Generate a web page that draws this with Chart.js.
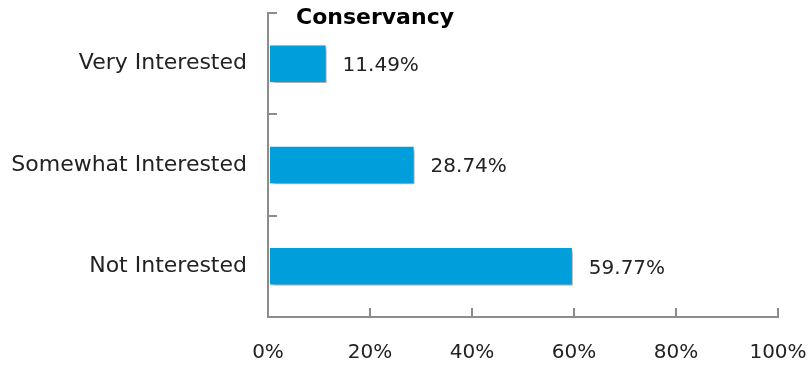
<!DOCTYPE html>
<html>
<head>
<meta charset="utf-8">
<script src="https://cdn.jsdelivr.net/npm/chart.js@4/dist/chart.umd.min.js"></script>
<style>
html,body{margin:0;padding:0;background:#fff;}
#wrap{width:812px;height:367px;position:relative;}
</style>
</head>
<body>
<div id="wrap"><canvas id="c" width="812" height="367"></canvas></div>
<script>
const categories = ["Very Interested", "Somewhat Interested", "Not Interested"];
const values = [11.49, 28.74, 59.77];
const valueLabels = ["11.49%", "28.74%", "59.77%"];
const xTicks = [0, 20, 40, 60, 80, 100];
const chartTitle = "Conservancy";

const FONT = "'DejaVu Sans', sans-serif";
const TEXT = "#222222";
const AXIS = "#8c8c8c";

const shadowPlugin = {
  id: 'barShadow',
  beforeDatasetDraw(chart) {
    const ctx = chart.ctx;
    ctx.save();
    ctx.shadowColor = 'rgba(0,0,0,0.35)';
    ctx.shadowBlur = 4;
    ctx.shadowOffsetX = 3;
    ctx.shadowOffsetY = 3;
  },
  afterDatasetDraw(chart) {
    chart.ctx.restore();
  }
};

const labelPlugin = {
  id: 'valueLabels',
  afterDatasetsDraw(chart) {
    const ctx = chart.ctx;
    const meta = chart.getDatasetMeta(0);
    ctx.save();
    ctx.font = "20px " + FONT;
    ctx.fillStyle = TEXT;
    ctx.textAlign = 'left';
    ctx.textBaseline = 'middle';
    meta.data.forEach((bar, i) => {
      ctx.fillText(valueLabels[i], bar.x + 16, bar.y + 2);
    });
    ctx.restore();
  }
};

const titlePlugin = {
  id: 'leftTitle',
  afterDraw(chart) {
    const ctx = chart.ctx;
    ctx.save();
    ctx.font = "bold 22px " + FONT;
    ctx.fillStyle = "#000";
    ctx.textAlign = 'center';
    ctx.textBaseline = 'middle';
    ctx.fillText(chartTitle, chart.chartArea.left + 107, 18);
    ctx.restore();
  }
};

new Chart(document.getElementById('c'), {
  type: 'bar',
  data: {
    labels: categories,
    datasets: [{
      data: values,
      backgroundColor: '#009EDB',
      borderColor: '#ffffff',
      borderWidth: 1,
      borderSkipped: false,
      categoryPercentage: 0.76,
      barPercentage: 0.5
    }]
  },
  options: {
    indexAxis: 'y',
    responsive: false,
    animation: false,
    devicePixelRatio: 1,
    layout: { padding: { top: 13, right: 34, left: 0, bottom: 0 } },
    plugins: {
      legend: { display: false },
      tooltip: { enabled: false },
      title: { display: false }
    },
    scales: {
      x: {
        min: 0, max: 100,
        afterBuildTicks(scale) { scale.ticks = xTicks.map(v => ({ value: v })); },
        afterFit(scale) {
          scale.height = 50;
          scale.paddingLeft = 0; scale.paddingRight = 0;
          scale.paddingTop = 0; scale.paddingBottom = 0;
        },
        grid: {
          display: true,
          drawOnChartArea: false,
          drawTicks: true,
          tickLength: -9,
          color: AXIS,
          lineWidth: 2
        },
        border: { display: true, color: AXIS, width: 2 },
        ticks: {
          padding: 33,
          color: TEXT,
          font: { family: FONT, size: 20 },
          callback: v => v + '%'
        }
      },
      y: {
        afterFit(scale) {
          scale.width = 268;
          scale.paddingLeft = 0; scale.paddingRight = 0;
          scale.paddingTop = 0; scale.paddingBottom = 0;
        },
        grid: {
          display: true,
          drawOnChartArea: false,
          drawTicks: true,
          offset: true,
          tickLength: -9,
          color: AXIS,
          lineWidth: 2
        },
        border: { display: true, color: AXIS, width: 2 },
        ticks: {
          padding: 30,
          color: TEXT,
          font: { family: FONT, size: 22 }
        }
      }
    }
  },
  plugins: [shadowPlugin, labelPlugin, titlePlugin]
});
</script>
</body>
</html>
